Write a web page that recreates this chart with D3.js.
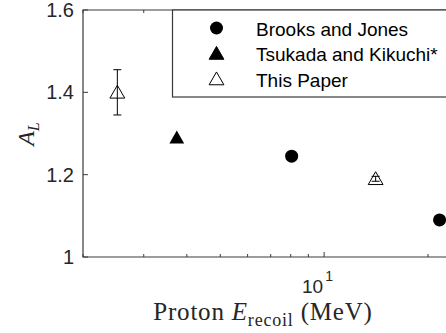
<!DOCTYPE html>
<html>
<head>
<meta charset="utf-8">
<script src="https://cdn.jsdelivr.net/npm/d3@7"></script>
<style>
  html, body { margin: 0; padding: 0; background: #fff; }
  svg { display: block; }
</style>
</head>
<body>
<svg id="chart" width="446" height="333"></svg>
<script>
// data
var brooksE = [8.05, 21.6];
var brooksA = [1.245, 1.09];
var tsukadaE = [3.74];
var tsukadaA = [1.29];
var paperE = [2.515, 14.1];
var paperA = [1.40, 1.19];
var paperErr = [0.055, 0.006];

var yTicks = [1, 1.2, 1.4, 1.6];
var xMinor = [2, 3, 4, 5, 6, 7, 8, 9, 10, 20, 30];
var legendLabels = ['Brooks and Jones', 'Tsukada and Kikuchi*', 'This Paper'];

var svg = d3.select('#chart');
var axisColor = '#3a3a3a';

// axes box runs off the right edge of the picture
var axLeft = 83, axTop = 10, axBottom = 257;
var x = d3.scaleLog().domain([2, 30]).range([axLeft, axLeft + 345 * Math.log10(15)]);
var y = d3.scaleLinear().domain([1, 1.6]).range([axBottom, axTop]);
var axRight = x(30);

// box
svg.append('path')
    .attr('d', 'M' + axRight + ',' + axTop + 'H' + axLeft + 'V' + axBottom + 'H' + axRight)
    .attr('fill', 'none')
    .attr('stroke', axisColor)
    .attr('stroke-width', 1.2);

// y ticks
yTicks.forEach(function (t) {
    svg.append('line')
        .attr('x1', axLeft).attr('x2', axLeft + 5)
        .attr('y1', y(t)).attr('y2', y(t))
        .attr('stroke', axisColor);
    svg.append('text')
        .attr('x', axLeft - 9).attr('y', y(t) + 7)
        .attr('text-anchor', 'end')
        .attr('font-family', 'Liberation Sans, Arial, sans-serif')
        .attr('font-size', 20)
        .attr('fill', '#262626')
        .text(d3.format('')(t));
});

// x ticks, bottom and top
xMinor.forEach(function (t) {
    var len = (t === 10) ? 5 : 3;
    svg.append('line')
        .attr('x1', x(t)).attr('x2', x(t))
        .attr('y1', axBottom).attr('y2', axBottom - len)
        .attr('stroke', axisColor);
    svg.append('line')
        .attr('x1', x(t)).attr('x2', x(t))
        .attr('y1', axTop).attr('y2', axTop + len)
        .attr('stroke', axisColor);
});

svg.append('text')
    .attr('x', x(10) - 1).attr('y', 293)
    .attr('text-anchor', 'end')
    .attr('font-family', 'Liberation Sans, Arial, sans-serif')
    .attr('font-size', 19)
    .attr('fill', '#262626')
    .text('10');
svg.append('text')
    .attr('x', x(10) + 1).attr('y', 281)
    .attr('font-family', 'Liberation Sans, Arial, sans-serif')
    .attr('font-size', 14)
    .attr('fill', '#262626')
    .text('1');

// axis labels
var lab = svg.append('text')
    .attr('x', 263).attr('y', 320)
    .attr('text-anchor', 'middle')
    .attr('font-family', 'Liberation Serif, Times New Roman, serif')
    .attr('font-size', 25)
    .attr('letter-spacing', 0.8)
    .attr('fill', '#262626');
lab.append('tspan').text('Proton ');
lab.append('tspan').attr('font-style', 'italic').text('E');
lab.append('tspan').attr('dy', 6).attr('font-size', 18).text('recoil');
lab.append('tspan').attr('dy', -6).text(' (MeV)');

var ylab = svg.append('text')
    .attr('transform', 'translate(34,134) rotate(-90)')
    .attr('text-anchor', 'middle')
    .attr('font-family', 'Liberation Serif, Times New Roman, serif')
    .attr('font-size', 24)
    .attr('font-style', 'italic')
    .attr('fill', '#262626');
ylab.append('tspan').text('A');
ylab.append('tspan').attr('dy', 5).attr('font-size', 16).text('L');

var tri = d3.symbol().type(d3.symbolTriangle).size(95);

// markers
var plot = svg.append('g');

plot.selectAll('circle.brooks')
    .data(d3.zip(brooksE, brooksA))
    .join('circle')
    .attr('cx', function (d) { return x(d[0]); })
    .attr('cy', function (d) { return y(d[1]); })
    .attr('r', 6.5)
    .attr('fill', '#000');

plot.selectAll('path.tsukada')
    .data(d3.zip(tsukadaE, tsukadaA))
    .join('path')
    .attr('d', tri)
    .attr('transform', function (d) { return 'translate(' + x(d[0]) + ',' + (y(d[1]) + 1.5) + ')'; })
    .attr('fill', '#000');

var paper = plot.selectAll('g.paper')
    .data(d3.zip(paperE, paperA, paperErr))
    .join('g')
    .attr('transform', function (d) { return 'translate(' + x(d[0]) + ',0)'; });

paper.append('path')
    .attr('d', function (d) {
        var t = y(d[1] + d[2]), b = y(d[1] - d[2]);
        return 'M0,' + t + 'V' + b + 'M-4,' + t + 'H4M-4,' + b + 'H4';
    })
    .attr('stroke', '#000')
    .attr('fill', 'none');

paper.append('path')
    .attr('d', tri)
    .attr('transform', function (d) { return 'translate(0,' + (y(d[1]) + 1.5) + ')'; })
    .attr('fill', 'none')
    .attr('stroke', '#000');

// legend
var lg = svg.append('g');
lg.append('rect')
    .attr('x', 172.5).attr('y', axTop)
    .attr('width', 300).attr('height', 87)
    .attr('fill', '#fff')
    .attr('stroke', axisColor)
    .attr('stroke-width', 1.2);

var rowY = [28, 53.5, 79];
legendLabels.forEach(function (name, i) {
    var mx = 216.5, my = rowY[i];
    if (i === 0) {
        lg.append('circle').attr('cx', mx).attr('cy', my).attr('r', 6.5).attr('fill', '#000');
    } else {
        lg.append('path')
            .attr('d', tri)
            .attr('transform', 'translate(' + mx + ',' + (my + 1.5) + ')')
            .attr('fill', i === 1 ? '#000' : 'none')
            .attr('stroke', '#000');
    }
    lg.append('text')
        .attr('x', 256).attr('y', my + 7.5)
        .attr('font-family', 'Liberation Sans, Arial, sans-serif')
        .attr('font-size', 19)
        .attr('fill', '#000')
        .text(name);
});
</script>
</body>
</html>
